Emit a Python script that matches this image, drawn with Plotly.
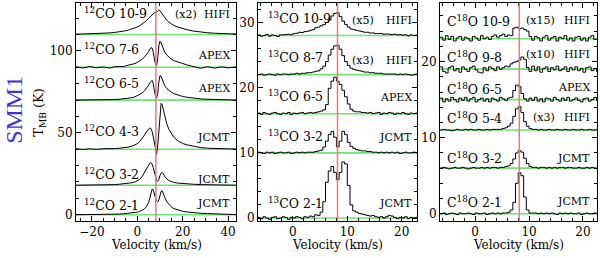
import plotly.graph_objects as go

# ---------------- data ----------------
V_LSR = 8.2

# panel 1 channel velocities (km/s)
v1 = [-27, -24, -21, -18, -15, -12,
      -10, -8, -6, -4, -2,
      -1, 0, 1, 2, 3, 4, 5,
      5.5, 6, 6.5, 7, 7.5, 8, 8.5, 9, 9.5, 10, 10.5, 11, 11.5, 12,
      13, 14, 15, 16,
      18, 20, 22,
      25, 28, 31, 34, 37, 40, 43.5]

co12_21 = [0, 0, 0, 0.1, 0.1, 0.2,
           0.3, 0.4, 0.6, 0.8, 1.1,
           1.3, 1.6, 2.0, 2.6, 3.4, 4.8, 7.5,
           10, 13.5, 15.6, 15.3, 13.5, 10.5, 8.3, 7.8, 9, 12.5, 14.3, 14.6, 13.2, 11,
           8, 6, 4.8, 3.8,
           2.8, 2.1, 1.7,
           1.2, 0.9, 0.7, 0.5, 0.3, 0.2, 0.1]
co12_32 = [0, 0, 0.1, 0.1, 0.2, 0.3,
           0.4, 0.6, 0.8, 1.1, 1.6,
           2.0, 2.6, 3.5, 5, 7.5, 10, 12.5,
           13.5, 13.7, 13, 11, 8.2, 5.2, 3, 2.4, 3.5, 6, 7.4, 7.7, 7, 5.6,
           3.8, 2.8, 2.2, 1.8,
           1.3, 1.0, 0.8,
           0.6, 0.4, 0.3, 0.2, 0.1, 0.1, 0]
co12_43 = [0.3, -0.2, 0.2, -0.1, 0.3, 0.1,
           0.4, 0.6, 0.9, 1.3, 2.0,
           2.6, 3.4, 4.6, 6.2, 8.3, 10.5, 12.5,
           13, 12.7, 11, 8, 4, 0, -3, 2, 12, 23, 28, 27, 24, 20.5,
           15.5, 12, 9.5, 7.5,
           5, 3.5, 2.6,
           1.6, 1.0, 0.6, 0.4, 0.2, 0.1, 0.1]
co12_65 = [0, 0, 0, 0, 0.1, 0.2,
           0.3, 0.5, 0.7, 1.0, 1.5,
           2.0, 2.6, 3.3, 4.2, 5.4, 7, 9,
           10.5, 11.7, 12, 10, 6, 2.5, 1.2, 4, 11, 15, 14.5, 12.5, 10.5, 9,
           7, 5.8, 4.8, 4,
           3, 2.2, 1.7,
           1.1, 0.7, 0.5, 0.3, 0.2, 0.1, 0]
co12_76 = [0.3, -0.4, 0.5, -0.3, 0.2, -0.5,
           0.4, 0.6, 0.5, 1.3, 1.8,
           2.3, 3.0, 3.8, 4.8, 6, 7.5, 9.5,
           11, 12, 11.8, 9.5, 5.5, 2, 1.2, 5, 13, 16, 15, 13, 11, 9.5,
           7.5, 6, 5, 4.2,
           3, 2.3, 1.4,
           0.5, -0.6, 0.4, -0.5, 0.3, -0.3, 0.2]
co12_109 = [0.1, 0.15, 0.2, 0.25, 0.35, 0.5,
            0.65, 0.8, 1.05, 1.35, 1.75,
            2.0, 2.3, 2.65, 3.1, 3.6, 4.2, 4.9,
            5.3, 5.7, 6.1, 6.45, 6.65, 6.7, 6.8, 7.25, 7.5, 7.3, 6.75, 6.15, 5.6, 5.1,
            4.35, 3.75, 3.25, 2.85,
            2.25, 1.8, 1.45,
            1.05, 0.75, 0.55, 0.4, 0.3, 0.2, 0.15]

# panels 2 and 3 channel velocities (km/s)
v2 = [-6.5, -6, -5.5, -5, -4.5, -4, -3.5, -3, -2.5, -2,
      -1.5, -1, -0.5, 0, 0.5, 1, 1.5, 2, 2.5, 3,
      3.5, 4, 4.5, 5, 5.5, 6, 6.5, 7, 7.5, 8,
      8.5, 9, 9.5, 10, 10.5, 11, 11.5, 12, 12.5, 13,
      13.5, 14, 14.5, 15, 15.5, 16, 16.5, 17, 17.5, 18,
      18.5, 19, 19.5, 20, 20.5, 21, 21.5, 22, 22.5, 23]

co13_21 = [0.1, -0.1, 0.2, 0, -0.2, 0.1, 0.2, -0.1, 0, 0.2,
           0.1, -0.2, 0.1, 0, 0.2, 0.1, -0.1, 0.2, 0.1, 0.3,
           0.2, 0.5, 0.4, 0.9, 2.5, 5.5, 7.2, 7.9, 7.0, 5.9,
           7.0, 8.6, 8.3, 5.0, 2.0, 1.1, 0.9, 0.7, 0.6, 0.5,
           0.4, 0.3, 0.4, 0.2, 0.1, 0.2, 0, 0.2, 0.4, 0.3,
           0.1, -0.1, 0.1, 0, 0.2, -0.1, 0.1, 0, 0.1, -0.1]
co13_32 = [0.1, 0, -0.1, 0.1, 0, 0.1, -0.1, 0, 0.1, 0,
           0, 0.1, -0.1, 0, 0.1, 0, 0.1, 0, 0.1, 0.1,
           0.1, 0.2, 0.3, 0.4, 0.9, 1.8, 2.8, 3.3, 2.4, 0.9,
           1.8, 3.3, 2.8, 1.6, 1.0, 0.7, 0.5, 0.4, 0.3, 0.3,
           0.2, 0.2, 0.1, 0.1, 0, 0.1, 0, 0.1, 0, 0.1,
           0, 0.1, -0.1, 0, 0.1, 0, 0, 0.1, 0, 0]
co13_65 = [0.1, -0.1, 0.2, 0, -0.1, 0.1, 0.2, 0, -0.1, 0.1,
           0, 0.2, -0.1, 0.1, 0, 0.1, 0.2, 0, 0.1, 0.2,
           0.1, 0.2, 0.3, 0.4, 0.6, 1.4, 3.9, 5.0, 5.6, 5.0,
           4.5, 3.6, 2.6, 1.5, 0.7, 0.4, 0.3, 0.3, 0.2, 0.2,
           0.1, 0.2, 0, 0.1, 0.2, -0.1, 0.1, 0, 0.2, 0.1,
           -0.1, 0.1, 0, 0.2, 0, -0.1, 0.1, 0, 0.1, 0]
co13_87 = [0, 0.03, -0.03, 0, 0.03, 0, -0.03, 0.03, 0, 0.03,
           0.03, 0, 0.03, 0.03, 0.07, 0.03, 0.07, 0.07, 0.1, 0.1,
           0.13, 0.17, 0.2, 0.3, 0.43, 0.67, 1.0, 1.3, 1.47, 1.5,
           1.3, 0.97, 0.67, 0.47, 0.33, 0.27, 0.23, 0.2, 0.17, 0.13,
           0.13, 0.1, 0.1, 0.07, 0.07, 0.07, 0.03, 0.03, 0.03, 0.03,
           0.03, 0, 0.03, 0, 0.03, 0, -0.03, 0, 0.03, 0]
co13_109 = [0.02, -0.02, 0, 0.03, -0.02, 0.02, 0, -0.03, 0.02, 0.02,
            0.03, 0.04, 0.02, 0.06, 0.07, 0.1, 0.09, 0.12, 0.13, 0.16,
            0.18, 0.24, 0.26, 0.3, 0.34, 0.4, 0.48, 0.6, 0.68, 0.7,
            0.58, 0.44, 0.34, 0.26, 0.2, 0.18, 0.16, 0.14, 0.12, 0.1,
            0.1, 0.08, 0.08, 0.06, 0.06, 0.06, 0.04, 0.05, 0.04, 0.03,
            0.04, 0.02, 0.03, 0.01, 0.02, -0.01, 0.02, 0, 0.01, 0.02]

c18o_21 = [0, 0.1, -0.1, 0, 0.1, 0, -0.1, 0.1, 0, 0,
           0.1, 0, -0.1, 0.1, 0, 0, 0.1, -0.1, 0, 0.1,
           0, 0.1, 0, 0.1, 0.1, 0.2, 0.5, 1.5, 4.0, 5.4,
           5.0, 2.2, 0.5, 0.1, 0.1, 0.1, 0, 0.1, 0, 0.1,
           0, 0.1, 0, -0.1, 0.1, 0, 0.1, 0, 0.1, 0,
           0, 0.1, -0.1, 0, 0.1, 0, 0, 0.1, 0, 0]
c18o_32 = [0, 0.1, 0, -0.1, 0, 0.1, 0, 0, 0.1, 0,
           -0.1, 0, 0.1, 0, 0, 0.1, 0, 0.1, 0, 0.1,
           0.1, 0, 0.1, 0.1, 0.2, 0.3, 0.6, 1.2, 2.0, 2.3,
           2.1, 1.3, 0.6, 0.2, 0.1, 0.1, 0, 0.1, 0.1, 0,
           0.1, 0, 0.1, 0, 0.1, 0.1, 0, 0.1, 0.1, 0,
           0, 0.1, 0, 0, 0.1, 0, 0.1, 0, 0, 0.1]
c18o_54 = [0, 0.03, 0, 0, -0.03, 0, 0.03, 0, 0, 0.03,
           0, 0.03, 0, 0, 0.03, 0, 0, 0.03, 0, 0.03,
           0.03, 0.03, 0.03, 0.07, 0.1, 0.17, 0.3, 0.6, 0.93, 1.03,
           0.77, 0.37, 0.17, 0.07, 0.03, 0.03, 0, 0.03, 0, 0,
           0.03, 0, 0, 0.03, 0, 0, 0.03, 0, 0, 0.03,
           0, 0, 0.03, 0, 0, 0.03, 0, 0, 0.03, 0]
c18o_65 = [0.2, -0.3, 0.1, -0.2, 0.3, 0, -0.3, 0.2, -0.1, 0.3,
           -0.2, 0.1, 0.3, -0.3, 0, 0.2, -0.2, 0.1, -0.3, 0.2,
           0, -0.2, 0.3, 0.1, -0.1, 0.2, 0.3, 1.2, 1.9, 1.7,
           0.8, 0.1, -0.2, 0.2, -0.1, 0.3, -0.2, 0.1, -0.3, 0.2,
           0.1, -0.2, 0.3, 0, -0.2, 0.2, -0.1, 0.3, -0.2, 0,
           0.2, -0.1, -0.3, 0.1, 0.2, -0.2, 0, 0.3, -0.1, 0.1]
c18o_98 = [0.03, -0.03, -0.05, 0.02, 0.04, -0.02, 0.01, -0.04, 0.03, 0,
           -0.03, 0.02, 0.04, -0.01, -0.04, -0.05, 0.02, -0.02, 0.03, 0.01,
           -0.02, 0.03, 0, 0.02, 0.04, 0.03, 0.07, 0.09, 0.1, 0.12,
           0.16, 0.13, 0.02, -0.03, 0.04, -0.02, 0.03, -0.04, 0.01, 0.03,
           -0.03, 0.02, -0.01, 0.04, -0.02, 0, 0.03, -0.03, 0.02, -0.01,
           0.03, -0.02, 0.01, -0.04, 0.02, 0.03, -0.02, 0.01, -0.03, 0.02]
c18o_109 = [0.013, -0.013, 0.027, -0.007, 0.02, -0.02, 0.007, 0.02, -0.013, 0.013,
            0, -0.02, 0.02, 0.007, -0.013, 0.027, 0, 0.013, -0.007, 0.02,
            0.033, 0.013, 0.027, 0.04, 0.02, 0.033, 0.027, 0.093, 0.1, 0.087,
            0.093, 0.08, 0.067, 0.02, -0.013, 0.02, 0.007, -0.02, 0.013, 0.027,
            -0.013, 0.007, 0.02, -0.02, 0.013, 0, 0.027, -0.013, 0.007, -0.02,
            0.013, 0.02, -0.013, 0.007, -0.02, 0.013, 0.027, -0.007, 0, 0.013]

# spectra: (velocities, values, baseline offset [K], scale, line label, scale label, telescope)
panel1 = [
    (v1, co12_109, 110, 2, "<sup>12</sup>CO 10-9", "(x2)", "HIFI"),
    (v1, co12_76, 90, 1, "<sup>12</sup>CO 7-6", "", "APEX"),
    (v1, co12_65, 70, 1, "<sup>12</sup>CO 6-5", "", "APEX"),
    (v1, co12_43, 40, 1, "<sup>12</sup>CO 4-3", "", "JCMT"),
    (v1, co12_32, 18, 1, "<sup>12</sup>CO 3-2", "", "JCMT"),
    (v1, co12_21, 0, 1, "<sup>12</sup>CO 2-1", "", "JCMT"),
]
panel2 = [
    (v2, co13_109, 28, 5, "<sup>13</sup>CO 10-9", "(x5)", "HIFI"),
    (v2, co13_87, 22, 3, "<sup>13</sup>CO 8-7", "(x3)", "HIFI"),
    (v2, co13_65, 16, 1, "<sup>13</sup>CO 6-5", "", "APEX"),
    (v2, co13_32, 10, 1, "<sup>13</sup>CO 3-2", "", "JCMT"),
    (v2, co13_21, 0, 1, "<sup>13</sup>CO 2-1", "", "JCMT"),
]
panel3 = [
    (v2, c18o_109, 23, 15, "C<sup>18</sup>O 10-9", "(x15)", "HIFI"),
    (v2, c18o_98, 19, 10, "C<sup>18</sup>O 9-8", "(x10)", "HIFI"),
    (v2, c18o_65, 15, 1, "C<sup>18</sup>O 6-5", "", "APEX"),
    (v2, c18o_54, 11, 3, "C<sup>18</sup>O 5-4", "(x3)", "HIFI"),
    (v2, c18o_32, 6, 1, "C<sup>18</sup>O 3-2", "", "JCMT"),
    (v2, c18o_21, 0, 1, "C<sup>18</sup>O 2-1", "", "JCMT"),
]

# ---------------- layout / styling ----------------
W, H = 600, 258
FONT = "DejaVu Serif"

def px_x(p):
    return p / W

def px_y(p):
    return (H - p) / H

ydom = [px_y(225), px_y(3)]
panels = [
    dict(spec=panel1, ax="", dom=[px_x(76), px_x(236)], xr=[-27, 43.5], yr=[-3.6, 129.3],
         xd=20, xm=5, yd=50, ym=10, shape="linear", lx=0.0375, sx=0.77, rx=0.975,
         lsh=[22, 18, 17, 18, 11, 10], rsh=[20, 12, 12, 12, 6, 11]),
    dict(spec=panel2, ax="2", dom=[px_x(258), px_x(417)], xr=[-6.4, 22.8], yr=[-0.4, 33.0],
         xd=10, xm=2, yd=10, ym=2, shape="hv", lx=0.05, sx=0.745, rx=0.98,
         lsh=[18, 18, 18, 17, 15], rsh=[15, 14, 16, 15, 15]),
    dict(spec=panel3, ax="3", dom=[px_x(440), px_x(597)], xr=[-6.5, 22.6], yr=[-0.9, 27.7],
         xd=10, xm=2, yd=10, ym=2, shape="hv", lx=0.032, sx=0.745, rx=0.965,
         lsh=[18, 12, 11, 12, 10, 12], rsh=[18, 15, 12, 13, 10, 12]),
]

fig = go.Figure()
shapes = []
annotations = []
layout_axes = {}

for p in panels:
    a = p["ax"]
    xname, yname = "x" + a, "y" + a
    for i, (vv, vals, off, sc, lab, slab, tel) in enumerate(p["spec"]):
        fig.add_trace(go.Scatter(
            x=vv, y=[off + sc * t for t in vals], mode="lines",
            line=dict(color="black", width=1, shape=p["shape"]),
            xaxis=xname, yaxis=yname, showlegend=False, hoverinfo="skip"))
        shapes.append(dict(type="line", xref=xname + " domain", yref=yname,
                           x0=0, x1=1, y0=off, y1=off, layer="below",
                           line=dict(color="#72e272", width=1.6)))
        annotations.append(dict(text=lab, xref=xname + " domain", yref=yname,
                                x=p["lx"], y=off, yshift=p["lsh"][i], xanchor="left",
                                yanchor="middle", showarrow=False,
                                font=dict(family=FONT, size=12.5, color="black")))
        if slab:
            annotations.append(dict(text=slab, xref=xname + " domain", yref=yname,
                                    x=p["sx"], y=off, yshift=p["rsh"][i], xanchor="right",
                                    yanchor="middle", showarrow=False,
                                    font=dict(family=FONT, size=11, color="black")))
        annotations.append(dict(text=tel, xref=xname + " domain", yref=yname,
                                x=p["rx"], y=off, yshift=p["rsh"][i], xanchor="right",
                                yanchor="middle", showarrow=False,
                                font=dict(family=FONT, size=11, color="black")))
    shapes.append(dict(type="line", xref=xname, yref=yname + " domain",
                       x0=V_LSR, x1=V_LSR, y0=0, y1=1, layer="above",
                       line=dict(color="#e87a7a", width=1.5)))
    axcommon = dict(showline=True, linecolor="black", linewidth=1, mirror="allticks",
                    ticks="inside", ticklen=5, tickcolor="black", showgrid=False,
                    zeroline=False, tickfont=dict(family=FONT, size=12, color="black"))
    layout_axes["xaxis" + a] = dict(axcommon, domain=p["dom"], range=p["xr"], anchor=yname,
                                   dtick=p["xd"], tick0=0, ticklabelstandoff=0,
                                   minor=dict(dtick=p["xm"], tick0=0, ticklen=3,
                                              ticks="inside", tickcolor="black"))
    layout_axes["yaxis" + a] = dict(axcommon, domain=ydom, range=p["yr"], anchor=xname,
                                   dtick=p["yd"], tick0=0,
                                   minor=dict(dtick=p["ym"], tick0=0, ticklen=3,
                                              ticks="inside", tickcolor="black"))
    cx = (p["dom"][0] + p["dom"][1]) / 2
    annotations.append(dict(text="Velocity (km/s)", xref="paper", yref="paper",
                            x=cx, y=0, xanchor="center", yanchor="bottom", borderpad=0,
                            showarrow=False, font=dict(family=FONT, size=12, color="black")))

annotations.append(dict(text="T<sub>MB</sub> (K)", xref="paper", yref="paper",
                        x=px_x(40), y=px_y(115), textangle=-90, xanchor="center",
                        yanchor="middle", showarrow=False,
                        font=dict(family=FONT, size=13, color="black")))
annotations.append(dict(text="SMM1", xref="paper", yref="paper",
                        x=px_x(14), y=px_y(112), textangle=-90, xanchor="center",
                        yanchor="middle", showarrow=False,
                        font=dict(family="Liberation Serif", size=24, color="#3535d8")))

fig.update_layout(width=W, height=H, margin=dict(l=0, r=0, t=0, b=0),
                  paper_bgcolor="white", plot_bgcolor="white",
                  shapes=shapes, annotations=annotations, **layout_axes)

fig.write_html("out.html", config={"displayModeBar": False},
               post_script="document.body.style.margin='0';document.body.style.overflow='hidden';")
